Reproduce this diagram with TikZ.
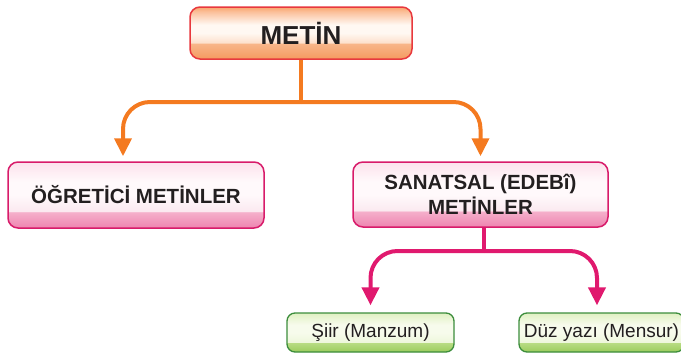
\documentclass[tikz,border=0pt]{standalone}
\usepackage{fontspec}
\setmainfont{Liberation Sans}
\usetikzlibrary{arrows.meta}
\definecolor{txt}{HTML}{231F20}
\definecolor{oline}{HTML}{F47A20}
\definecolor{pline}{HTML}{E0196E}
\definecolor{mborder}{HTML}{E8383D}
\definecolor{pborder}{HTML}{D81B6A}
\definecolor{gborder}{HTML}{3C8D3C}
\definecolor{mA}{HTML}{F59A60}
\definecolor{mB}{HTML}{F8B68A}
\definecolor{mC}{HTML}{FDE0CC}
\definecolor{mD}{HTML}{FFF8F2}
\definecolor{mE}{HTML}{FBC29E}
\definecolor{mF}{HTML}{F9A66E}
\definecolor{pA}{HTML}{EE84B0}
\definecolor{pB}{HTML}{F5B0CB}
\definecolor{pC}{HTML}{FBE9F0}
\definecolor{pD}{HTML}{FFF9FB}
\definecolor{pE}{HTML}{FCE2EC}
\definecolor{gA}{HTML}{9BCB5C}
\definecolor{gB}{HTML}{B9DD85}
\definecolor{gC}{HTML}{EEF7DC}
\definecolor{gD}{HTML}{F7FBEC}
\definecolor{gE}{HTML}{E0F0C2}
\pgfdeclareverticalshading{metinsh}{100bp}{color(0bp)=(mA); color(25bp)=(mA); color(40bp)=(mB); color(40.6bp)=(mC); color(50bp)=(mD); color(58bp)=(mD); color(70bp)=(mE); color(75bp)=(mF); color(100bp)=(mF)}
\pgfdeclareverticalshading{pinksh}{100bp}{color(0bp)=(pA); color(25bp)=(pA); color(37bp)=(pB); color(37.6bp)=(pC); color(50bp)=(pD); color(60bp)=(pD); color(75bp)=(pE); color(100bp)=(pE)}
\pgfdeclareverticalshading{greensh}{100bp}{color(0bp)=(gA); color(25bp)=(gA); color(37bp)=(gB); color(37.6bp)=(gC); color(50bp)=(gD); color(60bp)=(gD); color(75bp)=(gE); color(100bp)=(gE)}
\begin{document}
\begin{tikzpicture}[x=1pt,y=-1pt,
  basebox/.style={rectangle, inner sep=0pt, text=txt, align=center},
  metinbox/.style={basebox, draw=mborder, line width=1.5pt, rounded corners=10pt, shading=metinsh,
    font=\fontsize{26}{30}\selectfont\bfseries},
  pinkbox/.style={basebox, draw=pborder, line width=1.5pt, rounded corners=10pt, shading=pinksh,
    font=\fontsize{20.5}{25}\selectfont\bfseries},
  greenbox/.style={basebox, draw=gborder, line width=1.3pt, rounded corners=8pt, shading=greensh,
    font=\fontsize{19}{22}\selectfont},
  oconn/.style={draw=oline, line width=4pt},
  pconn/.style={draw=pline, line width=4pt},
  otip/.style={-{Triangle[length=18pt,width=17pt]}},
]
\useasboundingbox (0,0) rectangle (681,356);
\clip (0,0) rectangle (681,356);

\node[metinbox, minimum width=222pt, minimum height=52pt] (metin) at (301,33) {METİN};
\node[pinkbox, minimum width=256pt, minimum height=66pt] (ogr) at (136,195) {ÖĞRETİCİ METİNLER};
\node[pinkbox, minimum width=255pt, minimum height=65pt] (san) at (480.5,194.5) {SANATSAL (EDEBî)\\METİNLER};
\node[greenbox, minimum width=167pt, minimum height=39pt] (siir) at (370.5,332.5) {Şiir (Manzum)};
\node[greenbox, minimum width=165pt, minimum height=39pt] (duz) at (601.5,332.5) {Düz yazı (Mensur)};

\coordinate (j1) at (301,102);
\coordinate (j2) at (484,251);

\draw[oconn] (metin.south) -- (j1);
\draw[oconn, otip, rounded corners=27pt] (j1) -| ([xshift=-13pt,yshift=5pt]ogr.north);
\draw[oconn, otip, rounded corners=27pt] (j1) -| ([yshift=5pt]san.north);

\draw[pconn] ([xshift=3.5pt]san.south) -- (j2);
\draw[pconn, otip, rounded corners=27pt] (j2) -| ([yshift=7pt]siir.north);
\draw[pconn, otip, rounded corners=27pt] (j2) -| ([xshift=-4.5pt,yshift=7pt]duz.north);
\end{tikzpicture}
\end{document}
